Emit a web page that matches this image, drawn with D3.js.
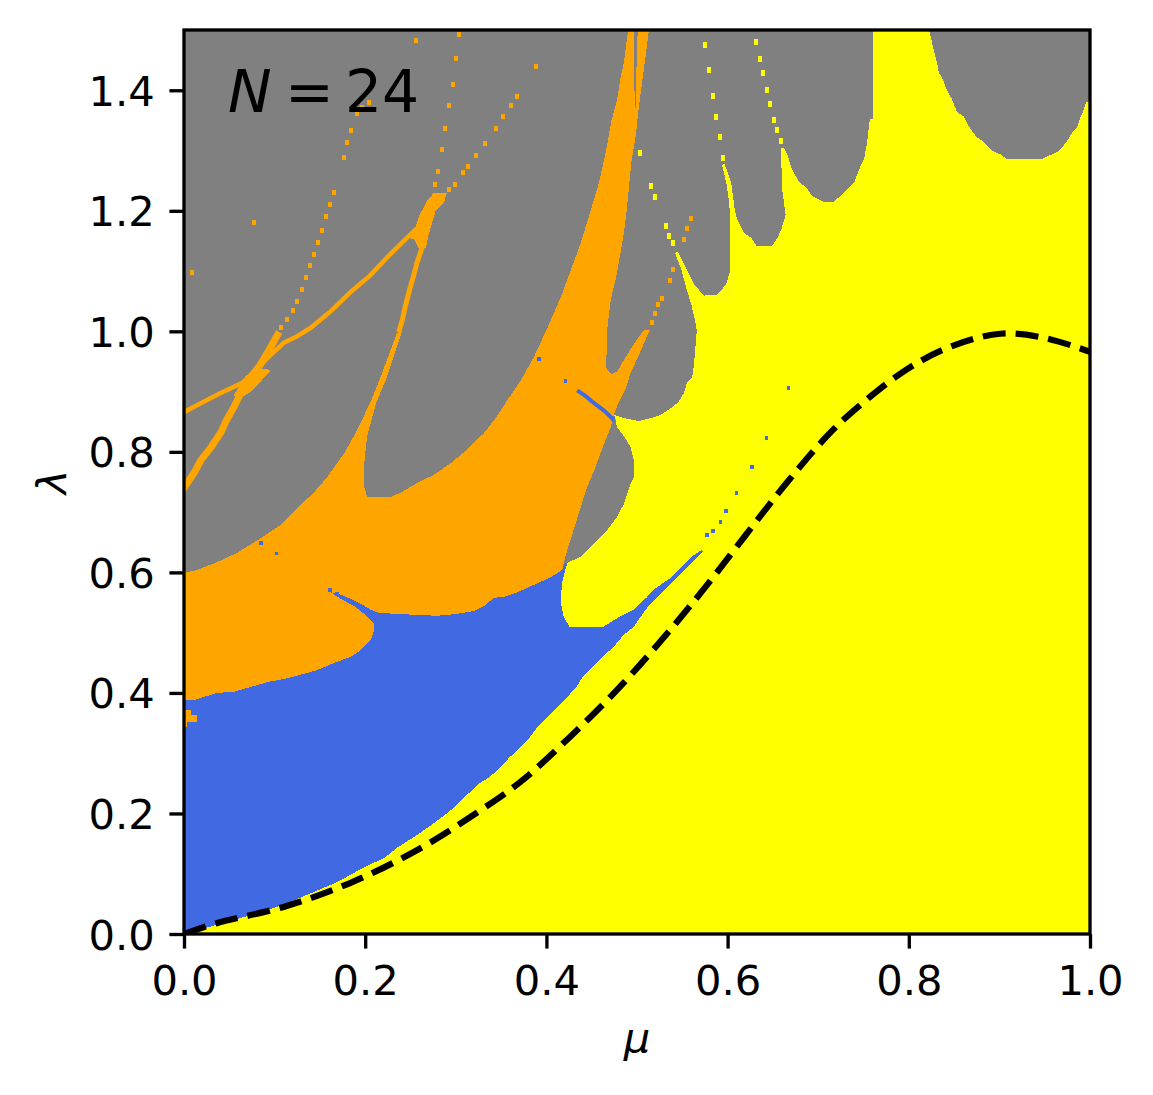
<!DOCTYPE html>
<html><head><meta charset="utf-8">
<script src="https://cdn.jsdelivr.net/npm/d3@7"></script>
<style>body{margin:0;background:#fff;} svg{display:block;}</style>
</head><body>
<svg id="chart" width="1153" height="1095"></svg>
<script>
// ---------- data (mu, lambda) ----------
const xTicks = [0, 0.2, 0.4, 0.6, 0.8, 1.0];
const yTicks = [0, 0.2, 0.4, 0.6, 0.8, 1.0, 1.2, 1.4];
const xLabel = "μ", yLabel = "λ";
const annotationN = "24";

const dashedCurve = [[0,0],[0.036,0.018],[0.110,0.045],[0.184,0.085],[0.257,0.139],[0.323,0.201],[0.371,0.252],[0.426,0.327],[0.478,0.405],[0.525,0.484],[0.573,0.571],[0.666,0.750],[0.716,0.836],[0.757,0.891],[0.800,0.939],[0.845,0.974],[0.901,0.996],[0.950,0.989],[1.000,0.966]];

const orangeRegion = [[0,0.388],[0,0.599],[0.014,0.604],[0.035,0.616],[0.058,0.632],[0.085,0.657],[0.107,0.679],[0.125,0.707],[0.143,0.732],[0.158,0.758],[0.177,0.798],[0.191,0.836],[0.206,0.883],[0.217,0.924],[0.228,0.969],[0.235,0.997],[0.241,1.002],[0.224,0.924],[0.212,0.881],[0.202,0.825],[0.199,0.782],[0.199,0.742],[0.202,0.725],[0.228,0.725],[0.240,0.733],[0.257,0.748],[0.276,0.762],[0.295,0.782],[0.312,0.803],[0.331,0.831],[0.345,0.858],[0.357,0.886],[0.372,0.919],[0.386,0.957],[0.400,1.002],[0.416,1.057],[0.427,1.102],[0.438,1.147],[0.449,1.201],[0.458,1.246],[0.466,1.301],[0.472,1.351],[0.478,1.384],[0.482,1.422],[0.486,1.450],[0.489,1.488],[0.492,1.51],[0.514,1.51],[0.510,1.462],[0.506,1.417],[0.502,1.372],[0.499,1.329],[0.494,1.284],[0.489,1.206],[0.486,1.168],[0.478,1.097],[0.471,1.052],[0.467,1.002],[0.466,0.939],[0.472,0.929],[0.478,0.933],[0.489,0.961],[0.501,0.989],[0.508,1.002],[0.514,1.002],[0.501,0.957],[0.493,0.931],[0.487,0.903],[0.480,0.883],[0.475,0.864],[0.471,0.841],[0.464,0.815],[0.453,0.770],[0.445,0.742],[0.438,0.709],[0.430,0.670],[0.423,0.637],[0.419,0.616],[0.415,0.554],[0.415,0.33],[0,0.33]];

const blueRegion = [[0,0],[0,0.388],[0.011,0.388],[0.036,0.400],[0.055,0.402],[0.074,0.410],[0.092,0.418],[0.110,0.423],[0.136,0.433],[0.147,0.438],[0.166,0.450],[0.184,0.460],[0.195,0.471],[0.206,0.488],[0.210,0.504],[0.210,0.514],[0.199,0.531],[0.188,0.544],[0.173,0.556],[0.162,0.567],[0.173,0.563],[0.184,0.556],[0.195,0.548],[0.206,0.538],[0.215,0.533],[0.235,0.531],[0.279,0.528],[0.301,0.531],[0.320,0.536],[0.331,0.544],[0.342,0.558],[0.353,0.559],[0.368,0.567],[0.390,0.582],[0.405,0.592],[0.417,0.604],[0.421,0.616],[0.575,0.645],[0.575,0]];

const yellowRegion = [[0,0],[1.01,0],[1.01,1.384],[0.996,1.381],[0.992,1.364],[0.989,1.354],[0.986,1.339],[0.980,1.329],[0.974,1.314],[0.965,1.298],[0.957,1.293],[0.947,1.286],[0.908,1.286],[0.902,1.293],[0.894,1.298],[0.889,1.304],[0.883,1.314],[0.875,1.322],[0.869,1.334],[0.864,1.346],[0.861,1.356],[0.853,1.364],[0.850,1.376],[0.847,1.387],[0.842,1.400],[0.838,1.417],[0.833,1.430],[0.831,1.447],[0.828,1.464],[0.825,1.483],[0.821,1.51],[0.760,1.51],[0.760,1.352],[0.757,1.352],[0.754,1.314],[0.751,1.288],[0.745,1.268],[0.740,1.248],[0.732,1.236],[0.725,1.225],[0.717,1.215],[0.706,1.215],[0.699,1.220],[0.693,1.225],[0.687,1.238],[0.679,1.248],[0.673,1.263],[0.670,1.273],[0.666,1.293],[0.662,1.304],[0.659,1.304],[0.660,1.238],[0.664,1.193],[0.659,1.168],[0.655,1.155],[0.649,1.142],[0.632,1.142],[0.626,1.155],[0.618,1.163],[0.615,1.173],[0.610,1.188],[0.608,1.201],[0.606,1.223],[0.604,1.246],[0.599,1.268],[0.596,1.279],[0.594,1.276],[0.599,1.243],[0.602,1.210],[0.603,1.168],[0.603,1.102],[0.599,1.080],[0.594,1.070],[0.588,1.060],[0.577,1.060],[0.574,1.059],[0.563,1.078],[0.554,1.105],[0.545,1.132],[0.542,1.130],[0.549,1.102],[0.554,1.074],[0.560,1.044],[0.564,1.019],[0.566,1.002],[0.563,0.947],[0.561,0.924],[0.555,0.914],[0.552,0.898],[0.546,0.883],[0.538,0.873],[0.526,0.861],[0.515,0.856],[0.502,0.851],[0.486,0.856],[0.475,0.861],[0.478,0.841],[0.486,0.825],[0.493,0.808],[0.497,0.782],[0.497,0.758],[0.493,0.748],[0.486,0.715],[0.478,0.692],[0.467,0.670],[0.453,0.649],[0.438,0.626],[0.423,0.616],[0.417,0.582],[0.416,0.549],[0.419,0.526],[0.426,0.509],[0.462,0.509],[0.478,0.524],[0.496,0.538],[0.511,0.559],[0.518,0.571],[0.538,0.592],[0.560,0.626],[0.571,0.637],[0.573,0.634],[0.560,0.616],[0.544,0.592],[0.531,0.571],[0.522,0.558],[0.511,0.541],[0.503,0.524],[0.496,0.509],[0.485,0.496],[0.474,0.476],[0.462,0.460],[0.451,0.443],[0.440,0.426],[0.433,0.410],[0.423,0.393],[0.412,0.377],[0.401,0.360],[0.390,0.343],[0.382,0.327],[0.371,0.310],[0.360,0.294],[0.349,0.277],[0.338,0.261],[0.327,0.251],[0.319,0.239],[0.312,0.231],[0.295,0.206],[0.276,0.184],[0.257,0.164],[0.235,0.143],[0.221,0.126],[0.199,0.111],[0.169,0.086],[0.136,0.065],[0.103,0.045],[0.066,0.028]];

const graySliver = [[0.497,1.51],[0.501,1.51],[0.499,1.417],[0.498,1.346],[0.497,1.417]];
const orangePatch = [[-0.01,0.372],[0.008,0.372],[0.008,0.363],[0.014,0.363],[0.014,0.352],[0.003,0.352],[0.003,0.343],[-0.01,0.343]];
const orangeBlob = [[0.247,1.156],[0.255,1.171],[0.260,1.193],[0.269,1.218],[0.276,1.230],[0.290,1.230],[0.287,1.213],[0.278,1.201],[0.274,1.181],[0.270,1.160],[0.267,1.138],[0.259,1.138],[0.254,1.152]];
const orangeCross = [[0.055,0.894],[0.068,0.926],[0.082,0.939],[0.096,0.936],[0.086,0.919],[0.073,0.899],[0.062,0.889]];

const orangeLineA = [[-0.005,0.729],[0.011,0.765],[0.019,0.787],[0.030,0.808],[0.041,0.833],[0.047,0.853],[0.055,0.874],[0.063,0.899],[0.073,0.923],[0.084,0.944],[0.095,0.972],[0.105,0.999]];
const orangeLineB = [[-0.005,0.862],[0.019,0.881],[0.041,0.898],[0.064,0.914],[0.078,0.933],[0.093,0.957],[0.110,0.981],[0.125,0.992],[0.140,1.006],[0.161,1.032],[0.183,1.064],[0.205,1.092],[0.227,1.127],[0.246,1.155],[0.257,1.171]];
const orangeLineS = [[0.237,0.999],[0.241,1.019],[0.244,1.040],[0.249,1.069],[0.253,1.090],[0.257,1.113],[0.263,1.140],[0.265,1.168]];

const orangeDots = [[0.107,1.007],[0.114,1.019],[0.120,1.034],[0.125,1.050],[0.130,1.070],[0.135,1.090],[0.139,1.110],[0.143,1.127],[0.148,1.147],[0.152,1.168],[0.157,1.190],[0.161,1.211],[0.166,1.230],[0.177,1.289],[0.180,1.313],[0.184,1.334],[0.191,1.362],[0.196,1.371],[0.204,1.379],[0.277,1.243],[0.280,1.266],[0.285,1.301],[0.288,1.337],[0.292,1.374],[0.297,1.410],[0.300,1.452],[0.304,1.493],[0.256,1.482],[0.077,1.181],[0.009,1.098],[0.292,1.236],[0.299,1.244],[0.308,1.264],[0.313,1.274],[0.322,1.291],[0.332,1.312],[0.344,1.337],[0.352,1.356],[0.361,1.374],[0.368,1.390],[0.389,1.439],[0.517,1.014],[0.520,1.029],[0.523,1.044],[0.528,1.055],[0.536,1.085],[0.540,1.103],[0.552,1.152],[0.555,1.170],[0.560,1.188]];

const yellowDots = [[0.503,1.296],[0.515,1.241],[0.520,1.223],[0.532,1.175],[0.535,1.158],[0.540,1.147],[0.575,1.475],[0.579,1.434],[0.584,1.390],[0.587,1.356],[0.592,1.322],[0.595,1.288],[0.631,1.480],[0.636,1.452],[0.639,1.429],[0.643,1.400],[0.647,1.377],[0.651,1.351],[0.655,1.334],[0.659,1.316]];

const blueDots = [[0.085,0.649],[0.102,0.631],[0.161,0.571],[0.169,0.564],[0.392,0.954],[0.421,0.918],[0.577,0.662],[0.584,0.669],[0.592,0.684],[0.598,0.702],[0.610,0.732],[0.627,0.775],[0.643,0.823],[0.667,0.906]];
const blueLine = [[0.434,0.902],[0.443,0.893],[0.450,0.884],[0.457,0.876],[0.464,0.868],[0.475,0.852]];

// ---------- drawing ----------
const colors = {gray:"#808080", orange:"#FFA500", blue:"#4169E1", yellow:"#FFFF00"};
const svg = d3.select("#chart");
const x = d3.scaleLinear().domain([0, 1]).range([184, 1090]);
const y = d3.scaleLinear().domain([0, 1.5]).range([934, 30]);
const lw = 3.33, font = "DejaVu Sans";

svg.append("defs").append("clipPath").attr("id","clip")
  .append("rect").attr("x", x(0)).attr("y", y(1.5)).attr("width", x(1)-x(0)).attr("height", y(0)-y(1.5));

const g = svg.append("g").attr("clip-path","url(#clip)");
const line = d3.line().x(d => x(d[0])).y(d => y(d[1]));

g.append("rect").attr("x", x(0)).attr("y", y(1.5)).attr("width", x(1)-x(0)).attr("height", y(0)-y(1.5)).attr("fill", colors.gray);

function poly(data, fill){ g.append("path").attr("d", line(data) + "Z").attr("fill", fill).attr("shape-rendering","crispEdges"); }
function strokeLine(data, color, w){ g.append("path").attr("d", line(data)).attr("fill","none").attr("stroke", color).attr("stroke-width", w).attr("stroke-linejoin","round"); }
function dots(data, color, w, h){
  g.append("g").selectAll("rect").data(data).join("rect")
    .attr("x", d => x(d[0]) - w/2).attr("y", d => y(d[1]) - h/2)
    .attr("width", w).attr("height", h).attr("fill", color).attr("shape-rendering","crispEdges");
}

poly(orangeRegion, colors.orange);
poly(graySliver, colors.gray);
strokeLine(orangeLineA, colors.orange, 7);
strokeLine(orangeLineB, colors.orange, 4.5);
strokeLine(orangeLineS, colors.orange, 5);
poly(orangeBlob, colors.orange);
poly(orangeCross, colors.orange);
dots(orangeDots, colors.orange, 4, 5);
poly(blueRegion, colors.blue);
poly(orangePatch, colors.orange);
poly(yellowRegion, colors.yellow);
dots(yellowDots, colors.yellow, 4, 6);
strokeLine(blueLine, colors.blue, 4);
dots(blueDots, colors.blue, 3.5, 3.5);

// dashed curve
svg.append("path").attr("d", d3.line().x(d => x(d[0])).y(d => y(d[1])).curve(d3.curveCatmullRom)(dashedCurve))
  .attr("fill","none").attr("stroke","#000").attr("stroke-width", 6.25).attr("stroke-dasharray","23,10")
  .attr("clip-path","url(#clip)");

// axes
const fs = 41.67;
const xAxis = svg.append("g").attr("transform", `translate(0,${y(0)})`)
  .call(d3.axisBottom(x).tickValues(xTicks).tickFormat(d3.format(".1f")).tickSize(14.6).tickPadding(14.6));
const yAxis = svg.append("g").attr("transform", `translate(${x(0)},0)`)
  .call(d3.axisLeft(y).tickValues(yTicks).tickFormat(d3.format(".1f")).tickSize(14.6).tickPadding(14.6));
[xAxis, yAxis].forEach(a => {
  a.select(".domain").remove();
  a.selectAll(".tick line").attr("stroke","#000").attr("stroke-width", lw);
  a.selectAll(".tick text").attr("font-family", font).attr("font-size", fs).attr("fill","#000");
});
xAxis.selectAll(".tick text").attr("y", 29.2).attr("dy", "0.76em");
yAxis.selectAll(".tick text").attr("dy", "0.36em");

// spines
svg.append("rect").attr("x", x(0)).attr("y", y(1.5)).attr("width", x(1)-x(0)).attr("height", y(0)-y(1.5))
  .attr("fill","none").attr("stroke","#000").attr("stroke-width", lw);

// labels
svg.append("text").attr("x", (x(0)+x(1))/2).attr("y", 1052).attr("text-anchor","middle")
  .attr("font-family", font).attr("font-style","italic").attr("font-size", fs).text(xLabel);
svg.append("text").attr("transform", `translate(66,${(y(0)+y(1.5))/2}) rotate(-90)`).attr("text-anchor","middle")
  .attr("font-family", font).attr("font-style","italic").attr("font-size", fs).text(yLabel);

// annotation N = 24
const ann = svg.append("text").attr("y", 112).attr("font-family", font).attr("font-size", 58.33).attr("fill","#000");
ann.append("tspan").attr("x", 228).attr("font-style","italic").text("N");
ann.append("tspan").attr("x", 285).text("=");
ann.append("tspan").attr("x", 345).text(annotationN);
</script>
</body></html>
